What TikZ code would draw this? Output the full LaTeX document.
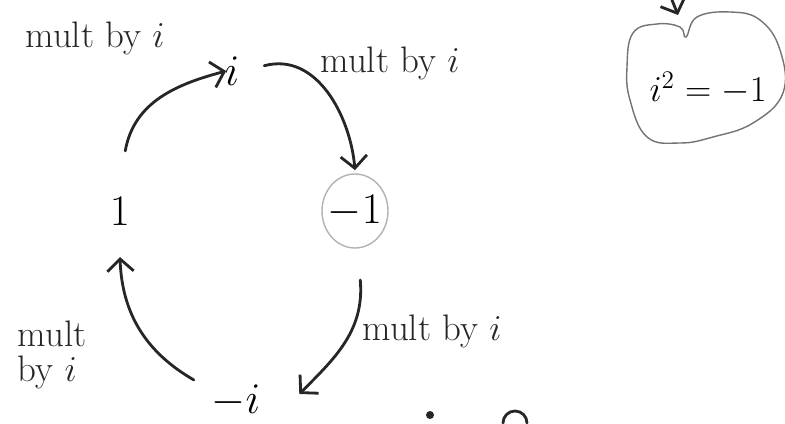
\documentclass[tikz,border=0pt]{standalone}
\usetikzlibrary{arrows.meta}
\begin{document}
\begin{tikzpicture}[
  x=0.02cm, y=0.02cm,
  ink/.style={draw=black!85, line width=1.6pt, line cap=round},
  arr/.style={ink, -{Straight Barb[length=7pt,width=15pt,line width=1.6pt]}},
  num/.style={font=\fontsize{34}{34}\selectfont, inner sep=2pt},
  lbl/.style={font=\fontsize{21}{22}\selectfont, align=left, text=black!85}
]
  \useasboundingbox (0,0) rectangle (785,423);
  % the four powers of i
  \node[num] (i)   at (232,352) {$i$};
  \node[num] (one) at (120,212) {$1$};
  \node[num] (m1)  at (355,212) {$-1$};
  \node[num] (mi)  at (236,22)  {$-i$};
  \draw[black!30, line width=0.8pt] (m1) ellipse (33 and 37);
  % the turns round the cycle
  \draw[arr] ([xshift=3pt,yshift=24pt]one.north) to[out=80,in=195] ([xshift=3pt]i.west);
  \draw[arr] ([xshift=12pt,yshift=3pt]i.east) to[out=15,in=95] ([yshift=12pt]m1.north);
  \draw[arr] ([xshift=3pt,yshift=-28pt]m1.south) to[out=-85,in=45] ([xshift=20pt,yshift=4pt]mi.east);
  \draw[arr] ([xshift=-8pt,yshift=12pt]mi.west) to[out=150,in=-88] ([yshift=-16pt]one.south);
  % labels
  \node[lbl] (l1) at (95,385) {mult by $i$};
  \node[lbl] (l2) at (390,360) {mult by $i$};
  \node[lbl] (l3) at (432,92) {mult by $i$};
  \node[lbl] (l4) at (52,68) {mult\\[-2pt]by $i$};
  % the boxed rule
  \node[num, font=\fontsize{22}{22}\selectfont] (sq) at (708,335) {$i^2=-1$};
  \draw[black!55, line width=0.8pt] plot[smooth cycle, tension=0.7] coordinates {
    (686,386) (697,406) (730,411) (760,403) (780,373) (783,330) (753,300)
    (713,286) (680,280) (647,286) (630,323) (627,356) (633,390) (657,399) (680,396)};
  \coordinate (top) at (672,423);
  \draw[arr] (top) -- (678,408);
  % cut-off marks at the bottom
  \fill[black!85] (430,8) circle (4);
  \draw[ink] (503,0) arc (180:0:12);
\end{tikzpicture}
\end{document}
